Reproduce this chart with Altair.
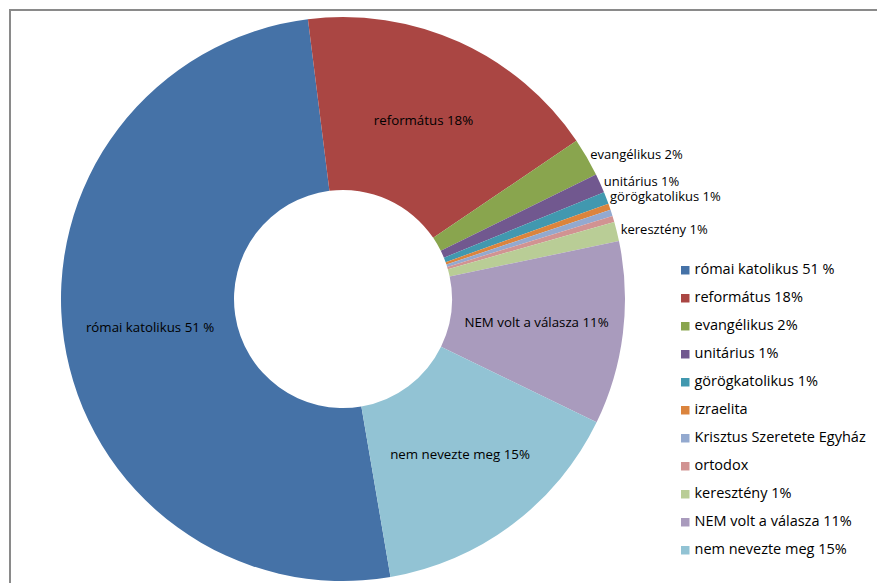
import math
import altair as alt
import pandas as pd

names = ["római katolikus 51 %", "református 18%", "evangélikus 2%", "unitárius 1%",
         "görögkatolikus 1%", "izraelita", "Krisztus Szeretete Egyház", "ortodox",
         "keresztény 1%", "NEM volt a válasza 11%", "nem nevezte meg 15%"]
values = [50.7, 17.5, 2.2, 1.1, 0.7, 0.36, 0.36, 0.36, 1.1, 10.5, 15.1]
label_pos = ["in", "in", "out", "out", "out", "none", "none", "none", "out", "in", "in"]
colors = ["#4572A7", "#AA4643", "#89A54E", "#71588F", "#4198AF", "#DB843D",
          "#93A9CF", "#D19392", "#B9CD96", "#A99BBD", "#92C3D4"]

df = pd.DataFrame({"name": names, "value": values, "pos": label_pos,
                   "idx": list(range(len(names)))})
total = sum(values)
a0 = math.radians(170.3)
sc = alt.Scale(domain=[0, total], range=[a0, a0 + 2 * math.pi])

base = alt.Chart(df).transform_stack(
    stack="value", groupby=[], as_=["v0", "v1"],
    sort=[alt.SortField("idx", order="ascending")]
).transform_calculate(mid="(datum.v0 + datum.v1) / 2")

arcs = base.mark_arc(innerRadius=109, outerRadius=282).encode(
    theta=alt.Theta("v0:Q", scale=sc, stack=None),
    theta2="v1:Q",
    color=alt.Color("name:N", sort=names,
                    scale=alt.Scale(domain=names, range=colors),
                    legend=alt.Legend(title=None, orient="none", legendX=669, legendY=254,
                                      symbolType="square", symbolSize=72,
                                      symbolStrokeWidth=0, labelFont="Open Sans",
                                      labelFontSize=14.5, labelColor="black",
                                      rowPadding=13, labelOffset=2, padding=0,
                                      labelLimit=300)),
)

inside = base.transform_filter("datum.pos == 'in'").mark_text(
    radius=195, font="Open Sans", fontSize=13.3, color="black"
).encode(theta=alt.Theta("mid:Q", scale=sc, stack=None), text="name:N")

outside = base.transform_filter("datum.pos == 'out'").mark_text(
    radius=286, font="Open Sans", fontSize=13, color="black", align="left"
).encode(theta=alt.Theta("mid:Q", scale=sc, stack=None), text="name:N")

one = pd.DataFrame({"a": [0]})
top_rule = alt.Chart(one).mark_rule(color="#8a8a8a", strokeWidth=2).encode(
    x=alt.value(0), x2=alt.value(868), y=alt.value(1))
left_rule = alt.Chart(one).mark_rule(color="#8a8a8a", strokeWidth=2).encode(
    x=alt.value(1), y=alt.value(0), y2=alt.value(578))

chart = alt.layer(top_rule, left_rule, arcs, inside, outside).properties(
    width=668, height=580, padding=0
).configure_view(strokeWidth=0)

chart.save("out.html", embed_options={"renderer": "svg", "actions": False})
